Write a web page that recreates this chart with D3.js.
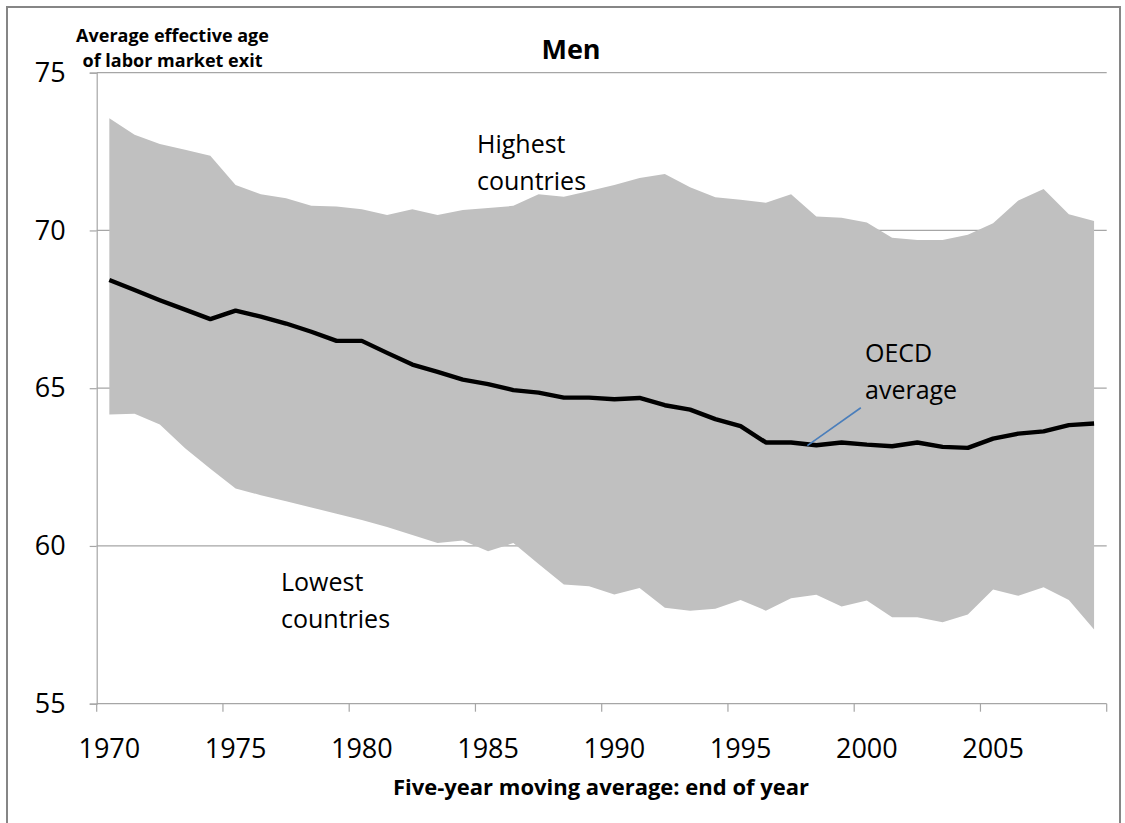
<!DOCTYPE html>
<html>
<head>
<meta charset="utf-8">
<script src="https://cdn.jsdelivr.net/npm/d3@7"></script>
<style>
  html, body { margin: 0; padding: 0; background: #fff; }
  svg { display: block; }
  text { font-family: "Open Sans", "Noto Sans", sans-serif; fill: #000; }
</style>
</head>
<body>
<svg id="chart" width="1125" height="823"></svg>
<script>
// ---- data ----
const years = [1970,1971,1972,1973,1974,1975,1976,1977,1978,1979,
               1980,1981,1982,1983,1984,1985,1986,1987,1988,1989,
               1990,1991,1992,1993,1994,1995,1996,1997,1998,1999,
               2000,2001,2002,2003,2004,2005,2006,2007,2008,2009];
const highest = [73.56,73.03,72.74,72.56,72.37,71.44,71.15,71.02,70.78,70.76,
                 70.67,70.49,70.67,70.49,70.65,70.71,70.78,71.15,71.07,71.25,
                 71.44,71.66,71.79,71.37,71.05,70.97,70.88,71.15,70.44,70.40,
                 70.25,69.77,69.70,69.70,69.86,70.23,70.95,71.31,70.51,70.30];
const lowest  = [64.17,64.19,63.85,63.10,62.45,61.82,61.61,61.42,61.22,61.02,
                 60.82,60.60,60.35,60.09,60.17,59.83,60.09,59.43,58.78,58.72,
                 58.46,58.67,58.04,57.95,58.01,58.29,57.95,58.34,58.45,58.08,
                 58.27,57.74,57.74,57.58,57.83,58.62,58.42,58.69,58.29,57.35];
const oecdAvg = [68.43,68.11,67.79,67.49,67.19,67.46,67.27,67.05,66.79,66.50,
                 66.50,66.12,65.75,65.52,65.27,65.13,64.94,64.86,64.70,64.70,
                 64.65,64.69,64.46,64.32,64.02,63.80,63.28,63.28,63.19,63.28,
                 63.21,63.16,63.28,63.14,63.11,63.40,63.56,63.63,63.83,63.88];
const yTicks = [55, 60, 65, 70, 75];
const xLabelYears = [1970, 1975, 1980, 1985, 1990, 1995, 2000, 2005];
const chartTitle = "Men";
const yTitle = ["Average effective age", "of labor market exit"];
const xTitle = "Five-year moving average: end of year";

// ---- layout ----
const plot = { left: 96.7, right: 1106.7, top: 72.7, bottom: 703.7 };
const svg = d3.select("#chart");

// frame
svg.append("rect")
  .attr("x", 7).attr("y", 7).attr("width", 1113).attr("height", 840)
  .attr("fill", "none").attr("stroke", "#868686").attr("stroke-width", 2);

const x = d3.scaleBand().domain(years).range([plot.left, plot.right]).padding(0);
const xc = d => x(d) + x.bandwidth() / 2;
const y = d3.scaleLinear().domain([55, 75]).range([plot.bottom, plot.top]);

// gridlines
svg.append("g").selectAll("line").data(yTicks.filter(t => t !== 55)).join("line")
  .attr("x1", plot.left).attr("x2", plot.right)
  .attr("y1", d => y(d)).attr("y2", d => y(d))
  .attr("stroke", "#a6a6a6").attr("stroke-width", 1.2);

// band
const rows = years.map((yr, i) => ({ yr, hi: highest[i], lo: lowest[i], avg: oecdAvg[i] }));
svg.append("path").datum(rows)
  .attr("fill", "#c0c0c0")
  .attr("d", d3.area().x(d => xc(d.yr)).y0(d => y(d.lo)).y1(d => y(d.hi)));

// y axis
const yAxis = svg.append("g").attr("transform", `translate(${plot.left},0)`)
  .call(d3.axisLeft(y).tickValues(yTicks).tickSize(7).tickPadding(24).tickFormat(d3.format("d")));
yAxis.select(".domain").attr("stroke", "#a6a6a6").attr("stroke-width", 1.2);
yAxis.selectAll(".tick line").attr("stroke", "#a6a6a6").attr("stroke-width", 1.2);
yAxis.selectAll(".tick text").attr("font-size", 27).attr("font-family", "Open Sans").attr("fill", "#000");

// x axis: labels at category centres, ticks at category boundaries
const xAxis = svg.append("g").attr("transform", `translate(0,${plot.bottom})`);
xAxis.append("line")
  .attr("x1", plot.left).attr("x2", plot.right).attr("y1", 0).attr("y2", 0)
  .attr("stroke", "#a6a6a6").attr("stroke-width", 1.2);
const tickXs = xLabelYears.map(yr => x(yr)).concat([plot.right]);
xAxis.selectAll("line.tk").data(tickXs).join("line").attr("class", "tk")
  .attr("x1", d => d).attr("x2", d => d).attr("y1", 0).attr("y2", 8)
  .attr("stroke", "#a6a6a6").attr("stroke-width", 1.2);
xAxis.selectAll("text.lbl").data(xLabelYears).join("text").attr("class", "lbl")
  .attr("x", d => xc(d)).attr("y", 54)
  .attr("text-anchor", "middle").attr("font-size", 27)
  .text(d => d);

// average line
svg.append("path").datum(rows)
  .attr("fill", "none").attr("stroke", "#000").attr("stroke-width", 4.4)
  .attr("stroke-linejoin", "round")
  .attr("d", d3.line().x(d => xc(d.yr)).y(d => y(d.avg)));

// leader line for OECD average
svg.append("line")
  .attr("x1", xc(1998) - 9).attr("y1", y(63.18))
  .attr("x2", xc(2000) - 6).attr("y2", y(64.38))
  .attr("stroke", "#4a7ebb").attr("stroke-width", 1.6);

// titles
svg.append("text").attr("x", 571).attr("y", 59).attr("text-anchor", "middle")
  .attr("font-size", 27).attr("font-weight", "bold").text(chartTitle);
svg.append("text").attr("x", 172.5).attr("text-anchor", "middle")
  .attr("font-size", 18).attr("font-weight", "bold")
  .selectAll("tspan").data(yTitle).join("tspan")
  .attr("x", 172.5).attr("y", (d, i) => 42 + i * 25).text(d => d);
svg.append("text").attr("x", 601).attr("y", 795).attr("text-anchor", "middle")
  .attr("font-size", 22).attr("font-weight", "bold").text(xTitle);

// annotations
function note(lines, x0, y0) {
  svg.append("text").attr("font-size", 25)
    .selectAll("tspan").data(lines).join("tspan")
    .attr("x", x0).attr("y", (d, i) => y0 + i * 37).text(d => d);
}
note(["Highest", "countries"], 477, 153);
note(["OECD", "average"], 865, 362);
note(["Lowest", "countries"], 281, 591);
</script>
</body>
</html>
